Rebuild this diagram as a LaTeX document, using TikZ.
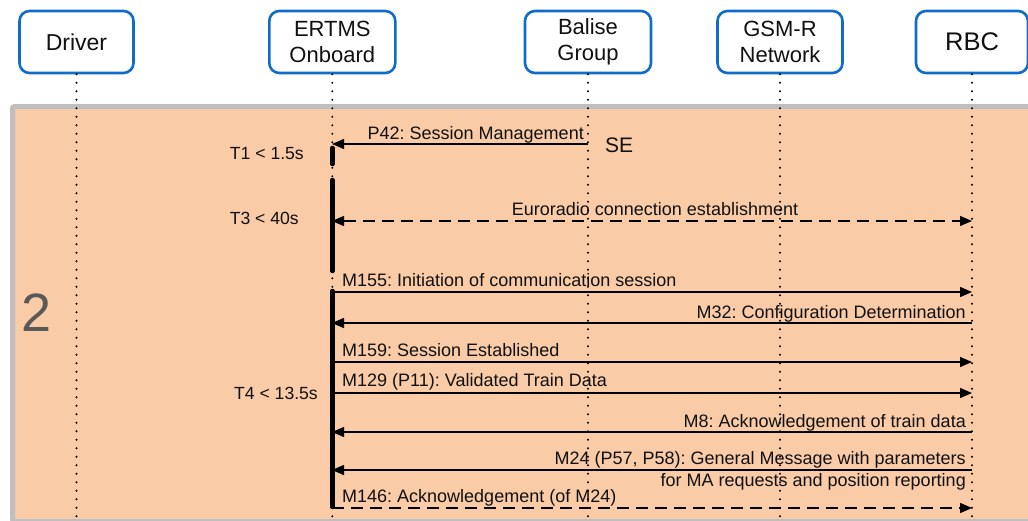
\documentclass[tikz,border=0pt]{standalone}
\usepackage{fontspec}
\setmainfont{Liberation Sans}
\usetikzlibrary{arrows.meta}
\definecolor{peach}{HTML}{F9CBA7}
\definecolor{bordergrey}{HTML}{BFBFBF}
\definecolor{boxblue}{HTML}{0F6CCB}
\definecolor{numgrey}{HTML}{595959}
\definecolor{ink}{HTML}{111111}
\frenchspacing
\begin{document}
\begin{tikzpicture}[x=1pt,y=-1pt,
  actor/.style={draw=boxblue, line width=2.6pt, rounded corners=10pt, fill=white,
    minimum height=62pt, align=center, inner sep=0pt, text=ink,
    font=\fontsize{22}{26.5}\selectfont},
  life/.style={line width=2.2pt, dash pattern=on 0pt off 8.5pt, line cap=round},
  msg/.style={line width=1.4pt, -{Triangle[length=12pt,width=10pt]}},
  dmsg/.style={msg, dash pattern=on 12pt off 7pt},
  dmsgboth/.style={line width=1.4pt, dash pattern=on 12pt off 7pt,
    {Triangle[length=12pt,width=10pt]}-{Triangle[length=12pt,width=10pt]}},
  lbl/.style={inner sep=0pt, text=ink, font=\frenchspacing\fontsize{18}{21}\selectfont},
  tlbl/.style={inner sep=0pt, text=ink, font=\frenchspacing\fontsize{17.6}{21}\selectfont},
  actbar/.style={line width=4.5pt, line cap=round}
]
% canvas
\path[use as bounding box] (0,0) rectangle (1028,520);
\draw[bordergrey, line width=5pt, fill=peach, rounded corners=2pt] (12.5,106.5) rectangle (1045,521.5);

% big section number
\node[inner sep=0pt, text=numgrey, font=\fontsize{54}{60}\selectfont, anchor=base] (sec) at (36.5,331) {2};

% time labels
\node[tlbl, anchor=base east] (t1) at (304,159) {T1 < 1.5s};
\node[tlbl, anchor=base east] (t3) at (299,224) {T3 < 40s};
\node[tlbl, anchor=base east] (t4) at (318,399) {T4 < 13.5s};
\node[inner sep=0pt, text=ink, font=\fontsize{21}{25}\selectfont, anchor=base west] (se) at (605,152) {SE};

% message labels
\node[lbl, anchor=base east] (lp42) at (584,139) {P42: Session Management};
\node[lbl, anchor=base] (leur) at (655,215) {Euroradio connection establishment};
\node[lbl, anchor=base west] (l155) at (342,286) {M155: Initiation of communication session};
\node[lbl, anchor=base east] (l32) at (966,318) {M32: Configuration Determination};
\node[lbl, anchor=base west] (l159) at (342,356) {M159: Session Established};
\node[lbl, anchor=base west] (l129) at (342,386) {M129 (P11): Validated Train Data};
\node[lbl, anchor=base east] (l8) at (966,427) {M8: Acknowledgement of train data};
\node[lbl, anchor=base east] (l24a) at (966,464) {M24 (P57, P58): General Message with parameters};
\node[lbl, anchor=base east] (l24b) at (966,486) {for MA requests and position reporting};
\node[lbl, anchor=base west] (l146) at (342,502) {M146: Acknowledgement (of M24)};

% message end points
\coordinate (p42s) at (588,144); \coordinate (p42e) at (332,144);
\coordinate (eurs) at (332,221); \coordinate (eure) at (972,221);
\coordinate (m155s) at (332,292); \coordinate (m155e) at (972,292);
\coordinate (m32s) at (972,323); \coordinate (m32e) at (332,323);
\coordinate (m159s) at (332,362); \coordinate (m159e) at (972,362);
\coordinate (m129s) at (332,393); \coordinate (m129e) at (972,393);
\coordinate (m8s) at (972,432); \coordinate (m8e) at (332,432);
\coordinate (m24s) at (972,470); \coordinate (m24e) at (332,470);
\coordinate (m146s) at (332,508); \coordinate (m146e) at (972,508);

\draw[msg] (p42s) -- (p42e);
\draw[dmsgboth] (eurs) -- (eure);
\draw[msg] (m155s) -- (m155e);
\draw[msg] (m32s) -- (m32e);
\draw[msg] (m159s) -- (m159e);
\draw[msg] (m129s) -- (m129e);
\draw[msg] (m8s) -- (m8e);
\draw[msg] (m24s) -- (m24e);
\draw[dmsg] (m146s) -- (m146e);

% actors
\node[actor, minimum width=114pt, font=\fontsize{23}{27}\selectfont] (drv) at (76.5,42) {Driver};
\node[actor, minimum width=126pt] (onb) at (332.3,42) {ERTMS\\Onboard};
\node[actor, minimum width=126pt] (bal) at (588,42) {Balise\\Group};
\node[actor, minimum width=125pt] (gsm) at (780,42) {GSM-R\\Network};
\node[actor, minimum width=112pt, font=\fontsize{25.5}{30}\selectfont] (rbc) at (972,42) {RBC};

% lifeline ends
\coordinate (drvend) at (76.5,520);
\coordinate (onbend) at (332.3,520);
\coordinate (balend) at (588,520);
\coordinate (gsmend) at (780,520);
\coordinate (rbcend) at (972,520);

\draw[life] (drv.south) -- (drvend);
\draw[life] (onb.south) -- (onbend);
\draw[life] (bal.south) -- (balend);
\draw[life] (gsm.south) -- (gsmend);
\draw[life] (rbc.south) -- (rbcend);

% activation bars
\coordinate (b1s) at (332.3,148); \coordinate (b1e) at (332.3,164);
\coordinate (b2s) at (332.3,180); \coordinate (b2e) at (332.3,271);
\coordinate (b3s) at (332.3,291); \coordinate (b3e) at (332.3,507);
\draw[actbar] (b1s) -- (b1e);
\draw[actbar] (b2s) -- (b2e);
\draw[actbar] (b3s) -- (b3e);
\end{tikzpicture}
\end{document}
